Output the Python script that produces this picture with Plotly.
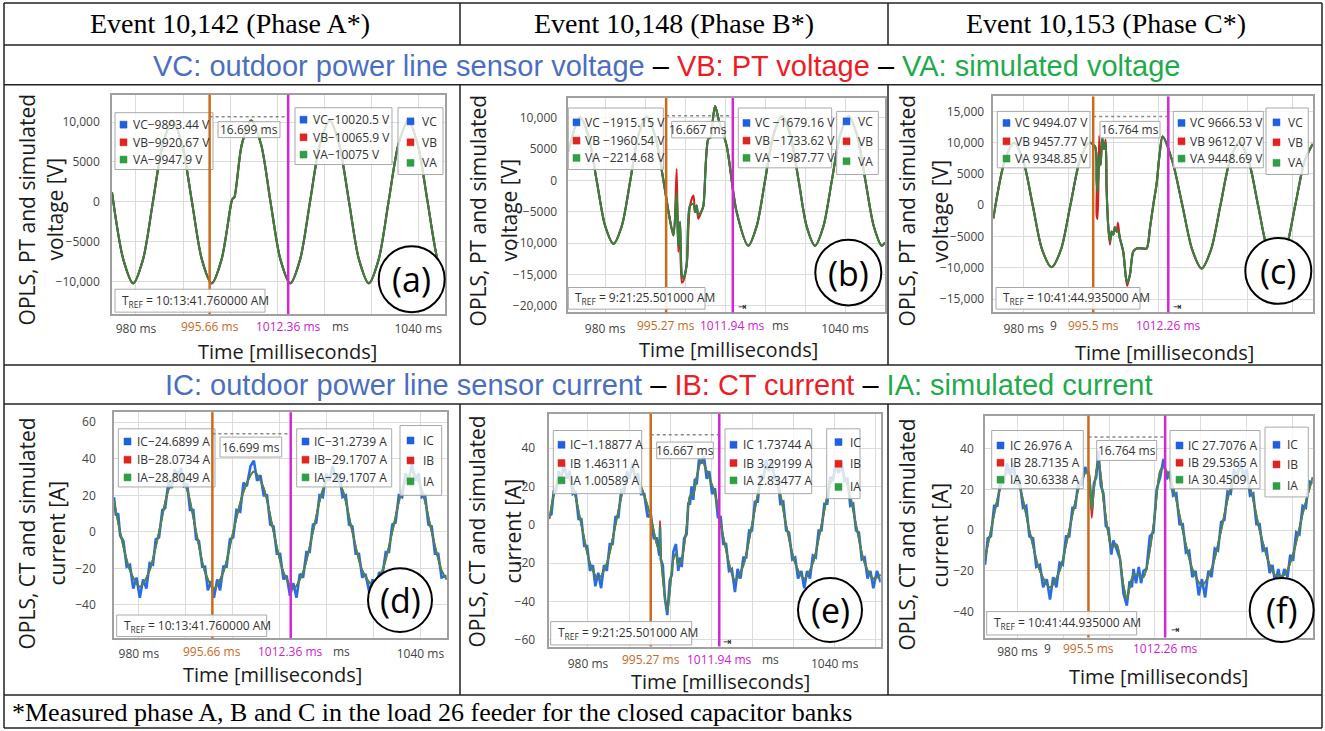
import plotly.graph_objects as go

W, H = 1325, 731
FONT = "Open Sans"
SERIF = "Liberation Serif"
NARROW = "Liberation Sans Narrow, Liberation Sans, Arial"

# ---------------- waveform data (time in ms; V in volts; I in amperes) ----------------
t_a = [974.9, 977.3, 979.4, 981.5, 983.6, 985.7, 987.8, 989.8, 991.9, 994.0, 996.1, 998.2, 1000.3, 1000.6, 1000.9,
       1002.5, 1004.5, 1006.6, 1008.6, 1010.7, 1012.8, 1014.9, 1017.0, 1019.1, 1021.2, 1023.2, 1025.3, 1027.4,
       1029.5, 1031.6, 1033.7, 1035.8, 1037.9, 1039.9, 1042.0, 1044.1, 1045.7]
va_a = [1200, -7200, -10200, -7200, 0, 7200, 10200, 7200, 0, -7200, -10200, -7200, 0, 450, 550,
        7200, 10200, 7200, 0, -7200, -10200, -7200, 0, 7200, 10200, 7200, 0, -7200,
        -10200, -7200, 0, 7200, 10200, 7200, 0, -7200, -9600]

t_b = [970.8, 973.7, 975.8, 977.9, 980.0, 982.1, 984.2, 986.3, 988.3, 990.4, 992.5, 994.6, 996.0, 997.1, 997.9,
       998.3, 998.75, 999.2, 999.6, 1000.4, 1001.25, 1002.1, 1002.5, 1002.9, 1003.3, 1004.2, 1004.6, 1005.8,
       1006.4, 1006.7, 1007.5, 1008.5, 1010.4, 1012.9, 1015.8, 1017.9, 1020.0, 1022.1, 1024.2, 1026.3, 1028.4,
       1030.4, 1032.5, 1034.6, 1036.7, 1038.8, 1040.9, 1043.0, 1045.1, 1047.2, 1049.2, 1050.0]
va_b = [4600, 10100, 7200, 0, -7200, -10100, -7200, 0, 7200, 10200, 7200, 0, -5500, -8760, -1850,
        -10500, -6600, -15100, -15650, -13500, -3980, -3710, -5030, -3980, -5500, -4770, -3980, 6640,
        6900, 8230, 11900, 9500, 5570, -5030, -10400, -7300, 0, 7300, 10300, 7300, 0,
        -7300, -10400, -7300, 0, 7300, 10300, 7300, 0, -7300, -10400, -9900]
vb_b = [4600, 10100, 7200, 0, -7200, -10100, -7200, 0, 7200, 10200, 7200, 0, -5500, -8760, 1860,
        -11400, -8000, -16300, -16000, -13500, -3980, -2390, -5030, -3980, -6100, -4770, -3980, 6640,
        6900, 8230, 11900, 9500, 5570, -5030, -10400, -7300, 0, 7300, 10300, 7300, 0,
        -7300, -10400, -7300, 0, 7300, 10300, 7300, 0, -7300, -10400, -9900]

t_c = [973.2, 975.75, 977.85, 979.9, 982.0, 984.1, 986.2, 988.3, 990.4, 992.5, 994.6, 995.9, 996.26, 996.48,
       996.84, 997.15, 997.51, 997.89, 998.27, 998.49, 998.85, 999.23, 999.61, 999.97, 1000.35, 1000.73,
       1001.02, 1001.47, 1002.2, 1002.81, 1003.1, 1003.7, 1004.44, 1005.2, 1006.67, 1007.43, 1008.2, 1008.9,
       1009.67, 1010.3, 1011.0, 1013.2, 1015.4, 1017.6, 1019.7, 1021.8, 1023.9, 1026.0, 1028.1, 1030.2,
       1032.3, 1034.4, 1036.45, 1038.5, 1040.6, 1042.7, 1044.5]
va_c = [-2100, 7100, 10000, 7100, 0, -7100, -9900, -7100, 0, 7100, 10000, 9400, 4000, 2000,
        8000, 6400, 10900, 9000, 10000, 2700, -3200, -5800, -4200, -4700, -3500, -4200,
        -4000, -5300, -7400, -11600, -12400, -11100, -7400, -6900, -6900, -6900, -3500, 0,
        3500, 8000, 11000, 7000, 0, -7100, -10100, -7100, 0, 7100, 10100, 7100,
        0, -7100, -10000, -7100, 0, 7100, 9800]
vb_c = [-2100, 7100, 10000, 7100, 0, -7100, -9900, -7100, 0, 7100, 10000, 9400, -1600, -2200,
        11100, 6400, 10000, 9000, 10500, 2700, -3200, -6300, -4200, -4700, -3500, -4200,
        -2800, -5300, -7400, -11600, -12900, -11100, -7400, -6900, -6900, -6900, -3500, 0,
        3500, 8000, 11000, 7000, 0, -7100, -10100, -7100, 0, 7100, 10100, 7100,
        0, -7100, -10000, -7100, 0, 7100, 9800]

# (d) current: CT / simulated (smooth) and sensor (noisy)
t_d = [974.7, 976.0, 978.1, 980.2, 982.3, 984.3, 986.3, 988.3, 990.3, 992.2, 994.1, 996.0, 998.0, 1000.1,
       1002.3, 1004.5, 1006.6, 1008.7, 1010.8, 1012.9, 1015.0, 1017.1, 1019.2, 1021.3, 1023.4, 1025.5,
       1027.6, 1029.8, 1031.9, 1034.0, 1036.1, 1038.2, 1040.3, 1042.4, 1044.5, 1045.6]
ia_d = [17, 0, -21, -30, -21, 0, 23, 33, 23, 0, -22, -31, -22, 0,
        22, 33, 24, 0, -22, -31, -22, 0, 23, 32, 23, 0,
        -21, -29, -21, 0, 23, 33, 23, 0, -21, -26]
tc_d = [974.7, 975.1, 975.6, 976.0, 976.7, 977.4, 978.1, 978.8, 979.5, 980.2, 980.9, 981.6, 982.3, 983.0,
        983.6, 984.3, 985.0, 985.6, 986.3, 987.0, 987.6, 988.3, 989.0, 989.6, 990.3, 990.9, 991.6, 992.2,
        992.8, 993.5, 994.1, 994.7, 995.4, 996.0, 996.7, 997.3, 998.0, 998.7, 999.4, 1000.1, 1000.8, 1001.6,
        1002.3, 1003.0, 1003.8, 1004.5, 1005.2, 1005.9, 1006.6, 1007.3, 1008.0, 1008.7, 1009.4, 1010.1,
        1010.8, 1011.5, 1012.2, 1012.9, 1013.6, 1014.3, 1015.0, 1015.7, 1016.4, 1017.1, 1017.8, 1018.5,
        1019.2, 1019.9, 1020.6, 1021.3, 1022.0, 1022.7, 1023.4, 1024.1, 1024.8, 1025.5, 1026.2, 1026.9,
        1027.6, 1028.3, 1029.1, 1029.8, 1030.5, 1031.2, 1031.9, 1032.6, 1033.3, 1034.0, 1034.7, 1035.4,
        1036.1, 1036.8, 1037.5, 1038.2, 1038.9, 1039.6, 1040.3, 1041.0, 1041.7, 1042.4, 1043.1, 1043.8,
        1044.5, 1045.6]
ic_d = [19, 9, 10, -2, -5, -19, -18, -31, -25, -36, -26, -31, -17, -18,
        -4, -3, 12, 13, 27, 24, 34, 30, 35, 25, 26, 12, 12, -4,
        -5, -19, -19, -32, -27, -36, -26, -32, -19, -19, -4, -3, 12, 11,
        27, 25, 36, 39, 28, 31, 20, 20, 4, 3, -12, -12,
        -26, -24, -35, -28, -36, -23, -25, -11, -11, 4, 5, 20,
        19, 32, 28, 36, 28, 32, 19, 20, 4, 3, -12, -12,
        -25, -23, -33, -26, -33, -22, -24, -11, -11, 4, 5, 20,
        19, 32, 28, 37, 28, 32, 19, 20, 4, 3, -12, -12,
        -25, -24]

t_e = [970.6, 972.2, 974.2, 976.3, 978.4, 980.5, 982.5, 984.6, 986.7, 988.8, 990.8, 992.9, 995.27, 996.73,
       997.35, 997.53, 997.7, 999.3, 1000.76, 1001.4, 1001.98, 1002.8, 1004.0, 1004.82, 1005.62, 1006.45,
       1007.66, 1008.88, 1010.9, 1012.9, 1015.76, 1017.8, 1019.9, 1022.0, 1024.0, 1026.1, 1028.2, 1030.4,
       1032.6, 1034.7, 1036.8, 1038.9, 1041.0, 1043.1, 1045.2, 1047.3, 1049.4, 1051.2]
ia_e = [3, 20, 28, 20, 0, -20, -28, -20, 0, 20, 28, 20, 4, -10,
        -13, -1, -15, -45, -18, -15, -21, -18, -1, 15, 16, 25,
        34, 28, 16, -6, -29, -21, 0, 22, 31, 22, 0, -20,
        -28, -20, 0, 21, 30, 21, 0, -20, -28, -26]
ib_e = [3, 20, 28, 20, 0, -20, -28, -20, 0, 20, 28, 20, 4, -10,
        -13, 2, -15, -44, -18, -15, -21, -18, -1, 15, 16, 25,
        34, 28, 16, -6, -29, -21, 0, 22, 31, 22, 0, -20,
        -28, -20, 0, 21, 30, 21, 0, -20, -28, -26]
tc_e = [970.6, 971.1, 971.7, 972.2, 972.9, 973.5, 974.2, 974.9, 975.6, 976.3, 977.0, 977.7, 978.4, 979.1,
        979.8, 980.5, 981.2, 981.8, 982.5, 983.2, 983.9, 984.6, 985.3, 986.0, 986.7, 987.4, 988.1, 988.8,
        989.5, 990.1, 990.8, 991.5, 992.2, 992.9, 993.7, 994.5, 995.27, 996.0, 996.73, 997.35, 997.53, 997.7,
        998.2, 998.7, 999.3, 999.9, 1000.4, 1000.76, 1001.4, 1001.98, 1002.4, 1002.8, 1003.4, 1004.0,
        1004.4, 1004.82, 1005.2, 1005.62, 1006.0, 1006.45, 1007.0, 1007.66, 1008.2, 1008.88, 1009.5, 1010.2,
        1010.9, 1011.6, 1012.3, 1012.9, 1013.6, 1014.3, 1015.0, 1015.76, 1016.4, 1017.1, 1017.8, 1018.5,
        1019.2, 1019.9, 1020.6, 1021.3, 1022.0, 1022.7, 1023.3, 1024.0, 1024.7, 1025.4, 1026.1, 1026.8,
        1027.5, 1028.2, 1028.9, 1029.7, 1030.4, 1031.1, 1031.9, 1032.6, 1033.3, 1034.0, 1034.7, 1035.4,
        1036.1, 1036.8, 1037.5, 1038.2, 1038.9, 1039.6, 1040.3, 1041.0, 1041.7, 1042.4, 1043.1, 1043.8,
        1044.5, 1045.2, 1045.9, 1046.6, 1047.3, 1048.0, 1048.7, 1049.4, 1050.3, 1051.2]
ic_e = [6, 5, 18, 17, 28, 24, 32, 24, 28, 16, 17, 3, 3, -11,
        -11, -24, -21, -32, -25, -33, -21, -24, -10, -10, 4, 4, 18, 17,
        28, 24, 32, 24, 27, 16, 16, 4, 6, -7, -7, -16, -1, -18,
        -21, -38, -47, -29, -26, -14, -10, -24, -17, -22, -7, -5,
        11, 11, 20, 13, 24, 21, 34, 32, 36, 24, 28, 16,
        19, 4, 4, -10, -10, -24, -23, -35, -23, -28, -17, -17,
        -3, -3, 12, 12, 26, 24, 34, 28, 34, 24, 25, 11,
        12, -3, -4, -18, -17, -28, -24, -33, -24, -28, -16, -17,
        -3, -3, 11, 11, 25, 23, 33, 27, 33, 23, 24, 10,
        11, -3, -4, -18, -17, -28, -24, -33, -24, -30]

t_f = [972.9, 974.2, 976.3, 978.4, 980.5, 982.6, 984.9, 987.1, 989.2, 991.3, 993.3, 994.78, 995.5, 996.23,
       996.7, 997.69, 998.78, 999.87, 1000.5, 1000.96, 1001.7, 1003.15, 1003.89, 1004.5, 1005.34, 1006.5,
       1007.52, 1009.7, 1011.17, 1011.9, 1014.0, 1016.1, 1018.2, 1020.3, 1022.4, 1024.5, 1026.6, 1028.7,
       1030.8, 1032.9, 1035.1, 1036.3, 1038.3, 1040.2, 1042.3, 1044.5]
ia_f = [-14, 0, 21, 30, 21, 0, -20, -28, -20, 0, 20, 28, 29, 10,
        20, 34, 15, -2, -8, -8, -7, -27, -34, -28, -22, -22,
        -23, 2, 29, 31, 21, 0, -19, -27, -19, 0, 21, 30,
        21, 0, -17, -22, -22, -12, 8, 26]
ib_f = [-14, 0, 21, 30, 21, 0, -20, -28, -20, 0, 20, 28, 29, 6,
        20, 34, 15, -2, -8, -8, -7, -27, -34, -28, -22, -22,
        -23, 2, 29, 31, 21, 0, -19, -27, -19, 0, 21, 30,
        21, 0, -17, -22, -22, -12, 8, 26]
tc_f = [972.9, 973.5, 974.2, 974.9, 975.6, 976.3, 977.0, 977.7, 978.4, 979.1, 979.8, 980.5, 981.2, 981.9,
        982.6, 983.4, 984.1, 984.9, 985.6, 986.4, 987.1, 987.8, 988.5, 989.2, 989.9, 990.6, 991.3, 992.0,
        992.6, 993.3, 994.0, 994.78, 995.5, 996.23, 996.7, 997.2, 997.69, 998.2, 998.78, 999.3, 999.87,
        1000.5, 1000.96, 1001.7, 1002.4, 1003.15, 1003.89, 1004.5, 1005.0, 1005.34, 1005.9, 1006.5, 1007.0,
        1007.52, 1008.2, 1008.9, 1009.7, 1010.4, 1011.17, 1011.9, 1012.6, 1013.3, 1014.0, 1014.7, 1015.4,
        1016.1, 1016.8, 1017.5, 1018.2, 1018.9, 1019.6, 1020.3, 1021.0, 1021.7, 1022.4, 1023.1, 1023.8,
        1024.5, 1025.2, 1025.9, 1026.6, 1027.3, 1028.0, 1028.7, 1029.4, 1030.1, 1030.8, 1031.5, 1032.2,
        1032.9, 1033.6, 1034.4, 1035.1, 1035.7, 1036.3, 1037.0, 1037.6, 1038.3, 1039.0, 1039.6, 1040.2,
        1040.9, 1041.6, 1042.3, 1043.0, 1043.7, 1044.5]
ic_f = [-17, -4, -3, 12, 12, 25, 23, 33, 27, 33, 23, 24, 11, 12,
        -3, -4, -18, -17, -28, -24, -34, -23, -28, -16, -17, -3, -3, 11,
        11, 24, 22, 31, 27, 10, 23, 26, 39, 22, 18, 2, 1,
        -12, -5, -10, -14, -31, -37, -25, -28, -19, -26, -18, -26,
        -20, -19, -3, -1, 20, 26, 35, 25, 29, 17, 18, 3,
        3, -11, -10, -23, -20, -32, -24, -33, -20, -23, -9, -10,
        4, 5, 19, 18, 30, 26, 34, 26, 30, 17, 18, 3,
        3, -10, -9, -21, -17, -26, -19, -26, -19, -23, -12, -15,
        -1, -2, 12, 11, 24, 23]

# ---------------- tick labels ----------------
grid_ticks = [970, 980, 990, 1000, 1010, 1020, 1030, 1040, 1050]
x_ticks_full = [980, 1040]
x_text_full = ["980 ms", "1040 ms"]
x_ticks_short = [980]
x_text_short = ["980 ms"]
v_ticks_a = [-10000, -5000, 0, 5000, 10000]
v_text_a = ["−10,000", "−5000", "0", "5000", "10,000"]
v_ticks_b = [-20000, -15000, -10000, -5000, 0, 5000, 10000]
v_text_b = ["−20,000", "−15,000", "−10,000", "−5000", "0", "5000", "10,000"]
v_ticks_c = [-15000, -10000, -5000, 0, 5000, 10000, 15000]
v_text_c = ["−15,000", "−10,000", "−5000", "0", "5000", "10,000", "15,000"]
i_ticks_d = [-40, -20, 0, 20, 40, 60]
i_text_d = ["−40", "−20", "0", "20", "40", "60"]
i_ticks_e = [-60, -40, -20, 0, 20, 40]
i_text_e = ["−60", "−40", "−20", "0", "20", "40"]
i_ticks_f = [-40, -20, 0, 20, 40]
i_text_f = ["−40", "−20", "0", "20", "40"]
# fragments of tick labels left visible beside the cursor labels
frag_full = "ms"
frag_short = "9"

# ---------------- cursor readouts ----------------
cursors_a = [995.66, 1012.36]
cursors_b = [995.27, 1011.94]
cursors_c = [995.5, 1012.26]
cursor_text_a = ["995.66 ms", "1012.36 ms"]
cursor_text_b = ["995.27 ms", "1011.94 ms"]
cursor_text_c = ["995.5 ms", "1012.26 ms"]
delta_a, delta_b, delta_c = "16.699 ms", "16.667 ms", "16.764 ms"
tref_a = "T<sub>REF</sub> = 10:13:41.760000 AM"
tref_b = "T<sub>REF</sub> = 9:21:25.501000 AM"
tref_c = "T<sub>REF</sub> = 10:41:44.935000 AM"
read_a1 = ["VC−9893.44 V", "VB−9920.67 V", "VA−9947.9 V"]
read_a2 = ["VC−10020.5 V", "VB−10065.9 V", "VA−10075 V"]
read_b1 = ["VC −1915.15 V", "VB −1960.54 V", "VA −2214.68 V"]
read_b2 = ["VC −1679.16 V", "VB −1733.62 V", "VA −1987.77 V"]
read_c1 = ["VC 9494.07 V", "VB 9457.77 V", "VA 9348.85 V"]
read_c2 = ["VC 9666.53 V", "VB 9612.07 V", "VA 9448.69 V"]
read_d1 = ["IC−24.6899 A", "IB−28.0734 A", "IA−28.8049 A"]
read_d2 = ["IC−31.2739 A", "IB−29.1707 A", "IA−29.1707 A"]
read_e1 = ["IC−1.18877 A", "IB 1.46311 A", "IA 1.00589 A"]
read_e2 = ["IC 1.73744 A", "IB 3.29199 A", "IA 2.83477 A"]
read_f1 = ["IC 26.976 A", "IB 28.7135 A", "IA 30.6338 A"]
read_f2 = ["IC 27.7076 A", "IB 29.5365 A", "IA 30.4509 A"]
names_v = ["VC", "VB", "VA"]
names_i = ["IC", "IB", "IA"]

headers = ["Event 10,142 (Phase A*)", "Event 10,148 (Phase B*)", "Event 10,153 (Phase C*)"]
footnote = "*Measured phase A, B and C in the load 26 feeder for the closed capacitor banks"

SQ = ["#1f5fe0", "#e0241f", "#2f9e44"]

panels = [
    dict(tag="(a)", kind="V", t=t_a, tb=t_a, blue=va_a, red=va_a, green=va_a,
         dx=(112, 445), dy=(95, 315), xr=(974.9, 1045.7), yr=(-14060, 13420),
         yt=v_ticks_a, ytt=v_text_a, xtv=x_ticks_full, xtt=x_text_full, cur=cursors_a, curt=cursor_text_a,
         frag=(frag_full, 1023.4), delta=delta_a, tref=tref_a, r1=read_a1, r2=read_a2,
         b1=(115, 113, 213, 170), b1r=(125, 142.7, 160), b1s=120, b1t=131,
         dur=(218, 122, 280, 138), doty=117,
         b2=(295, 108, 392, 165), b2r=(120, 137.7, 155), b2s=300, b2t=311,
         b3=(398, 108, 443, 175), b3r=(121.7, 142.7, 163.3), b3s=407, b3t=420,
         trefbox=(115, 290, 265, 313), circ=(411.7, 280, 33), laby=327, xtitle=(287, 352),
         ytitle=(27, 55, 210), ylab="OPLS, PT and simulated", ylab2="voltage [V]", ys=8, xs=3, arrow=None),
    dict(tag="(b)", kind="V", t=t_b, tb=t_b, blue=va_b, red=vb_b, green=va_b,
         dx=(568.3, 885), dy=(98.3, 313.3), xr=(970.8, 1050.0), yr=(-21050, 13185),
         yt=v_ticks_b, ytt=v_text_b, xtv=x_ticks_full, xtt=x_text_full, cur=cursors_b, curt=cursor_text_b,
         frag=(frag_full, 1023.8), delta=delta_b, tref=tref_b, r1=read_b1, r2=read_b2,
         b1=(568.3, 108.3, 663.3, 170), b1r=(122.7, 141, 158.3), b1s=573, b1t=583,
         dur=(671.7, 121.7, 725, 138.3), doty=116,
         b2=(738.3, 108.3, 831.7, 168.3), b2r=(123.3, 141, 158.3), b2s=743, b2t=753,
         b3=(836.7, 111.7, 878.3, 175), b3r=(121.7, 141.7, 161.7), b3s=843, b3t=856,
         trefbox=(568.3, 288.3, 705, 310), circ=(848.3, 273.3, 33), laby=326.7, xtitle=(728, 350),
         ytitle=(478, 509, 211), ylab="OPLS, PT and simulated", ylab2="voltage [V]", ys=7, xs=4,
         arrow=(741.7, 307.7)),
    dict(tag="(c)", kind="V", t=t_c, tb=t_c, blue=va_c, red=vb_c, green=va_c,
         dx=(993.3, 1312.7), dy=(96.7, 313.3), xr=(973.2, 1044.5), yr=(-17120, 17390),
         yt=v_ticks_c, ytt=v_text_c, xtv=x_ticks_short, xtt=x_text_short, cur=cursors_c, curt=cursor_text_c,
         frag=(frag_short, 986.6), delta=delta_c, tref=tref_c, r1=read_c1, r2=read_c2,
         b1=(997.3, 111.7, 1090, 168.3), b1r=(123.3, 141.7, 159), b1s=1003, b1t=1013,
         dur=(1100, 121.7, 1160, 138.3), doty=116.7,
         b2=(1173.3, 111.7, 1263.3, 168.3), b2r=(123.3, 141.7, 159), b2s=1178, b2t=1188,
         b3=(1266, 108.3, 1308.3, 175), b3r=(122.7, 142.7, 163.3), b3s=1273, b3t=1286,
         trefbox=(996, 288.3, 1140, 310), circ=(1278.3, 271.7, 33), laby=326.7, xtitle=(1164, 353),
         ytitle=(907, 940, 211), ylab="OPLS, PT and simulated", ylab2="voltage [V]", ys=5, xs=4,
         arrow=(1176.7, 307.7)),
    dict(tag="(d)", kind="I", t=t_d, tb=tc_d, blue=ic_d, red=ia_d, green=ia_d,
         dx=(114, 446.7), dy=(413.3, 640), xr=(974.7, 1045.6), yr=(-58.2, 65.5),
         yt=i_ticks_d, ytt=i_text_d, xtv=x_ticks_full, xtt=x_text_full, cur=cursors_a, curt=cursor_text_a,
         frag=(frag_full, 1023.1), delta=delta_a, tref=tref_a, r1=read_d1, r2=read_d2,
         b1=(118.3, 430, 215, 488.3), b1r=(442.7, 461, 478.7), b1s=124, b1t=135,
         dur=(220, 438.3, 281.7, 458.3), doty=435,
         b2=(296.7, 430, 391.7, 488.3), b2r=(442.7, 461, 478.7), b2s=302, b2t=312,
         b3=(400, 426.7, 441.7, 496.7), b3r=(441.7, 461.7, 482.7), b3s=407, b3t=421,
         trefbox=(116.7, 616.7, 266.7, 638.3), circ=(400, 601.7, 32), laby=653.3, xtitle=(272, 676),
         ytitle=(27, 57, 535), ylab="OPLS, CT and simulated", ylab2="current [A]", ys=14, xs=4, arrow=None),
    dict(tag="(e)", kind="I", t=t_e, tb=tc_e, blue=ic_e, red=ib_e, green=ia_e,
         dx=(549.3, 880.7), dy=(415, 648.3), xr=(970.6, 1051.2), yr=(-63.4, 57.8),
         yt=i_ticks_e, ytt=i_text_e, xtv=x_ticks_full, xtt=x_text_full, cur=cursors_b, curt=cursor_text_b,
         frag=(frag_full, 1024.3), delta=delta_b, tref=tref_b, r1=read_e1, r2=read_e2,
         b1=(553.3, 431.7, 641.7, 495), b1r=(446, 464.3, 481.7), b1s=558, b1t=568,
         dur=(656.7, 443.3, 713.3, 460), doty=436,
         b2=(725, 430, 811.7, 495), b2r=(446, 464.3, 481.7), b2s=730, b2t=741,
         b3=(826.7, 430, 860, 500), b3r=(443.3, 465, 488.3), b3s=835, b3t=848,
         trefbox=(550.7, 623.3, 691.7, 646.7), circ=(830, 611.7, 32), laby=661, xtitle=(720, 683),
         ytitle=(477, 513, 533), ylab="OPLS, CT and simulated", ylab2="current [A]", ys=10, xs=5,
         arrow=(726.7, 643.3)),
    dict(tag="(f)", kind="I", t=t_f, tb=tc_f, blue=ic_f, red=ib_f, green=ia_f,
         dx=(985, 1312.7), dy=(416.7, 639.3), xr=(972.9, 1044.5), yr=(-52.7, 56.3),
         yt=i_ticks_f, ytt=i_text_f, xtv=x_ticks_short, xtt=x_text_short, cur=cursors_c, curt=cursor_text_c,
         frag=(frag_short, 986.6), delta=delta_c, tref=tref_c, r1=read_f1, r2=read_f2,
         b1=(991.7, 431.7, 1083.3, 490), b1r=(446.7, 464, 481), b1s=997, b1t=1008,
         dur=(1096.7, 441.7, 1156.7, 461.7), doty=438.3,
         b2=(1170, 431.7, 1260, 490), b2r=(446.7, 464, 481), b2s=1176, b2t=1186,
         b3=(1265, 428.3, 1308.3, 498.3), b3r=(446, 465.7, 487.3), b3s=1273, b3t=1285,
         trefbox=(986.7, 613.3, 1136.7, 636.7), circ=(1281.7, 611.7, 32), laby=650, xtitle=(1158, 678.3),
         ytitle=(907, 940, 536), ylab="OPLS, CT and simulated", ylab2="current [A]", ys=7, xs=2,
         arrow=(1175, 631.7)),
]


def px(x):
    return x / W


def py(y):
    return 1 - y / H


fig = go.Figure()
shapes, annots = [], []
layout_axes = {}


def rect(x0, y0, x1, y1, fill, line="#a9a9a9", lw=1):
    shapes.append(dict(type="rect", xref="paper", yref="paper", x0=px(x0), x1=px(x1), y0=py(y1), y1=py(y0),
                       fillcolor=fill, line=dict(color=line, width=lw), layer="above"))


def label(x, y, s, size=12, color="#333333", xanchor="left", family=FONT, angle=0, **kw):
    annots.append(dict(xref="paper", yref="paper", x=px(x), y=py(y), text=s, showarrow=False,
                       xanchor=xanchor, yanchor="middle", textangle=angle,
                       font=dict(size=size, color=color, family=family), **kw))


def rows(sqx, txx, ys, texts):
    for k, (yy, s) in enumerate(zip(ys, texts)):
        rect(sqx, yy - 3.5, sqx + 7, yy + 3.5, SQ[k], line=SQ[k], lw=0.5)
        label(txx, yy, s, size=12, color="#333333")


for i, p in enumerate(panels, start=1):
    xa = "x" if i == 1 else f"x{i}"
    ya = "y" if i == 1 else f"y{i}"
    suffix = "" if i == 1 else str(i)
    axis_style = dict(showgrid=True, gridcolor="#dcdcdc", gridwidth=1, showline=True, mirror=True,
                      linecolor="#a0a0a0", linewidth=1.5, zeroline=False, ticks="", fixedrange=True,
                      tickfont=dict(size=12, color="#444444", family=FONT))
    layout_axes["xaxis" + suffix] = dict(domain=[px(p["dx"][0]), px(p["dx"][1])], range=list(p["xr"]),
                                         tickmode="array", tickvals=p["xtv"], ticktext=p["xtt"],
                                         minor=dict(tickmode="array", tickvals=grid_ticks, showgrid=True,
                                                    gridcolor="#dcdcdc", gridwidth=1, ticks=""),
                                         anchor=ya, ticklabelstandoff=p["xs"], **axis_style)
    layout_axes["yaxis" + suffix] = dict(domain=[py(p["dy"][1]), py(p["dy"][0])], range=list(p["yr"]),
                                         tickmode="array", tickvals=p["yt"], ticktext=p["ytt"],
                                         anchor=xa, ticklabelstandoff=p["ys"], **axis_style)

    if p["kind"] == "V":
        series = [(p["tb"], p["blue"], "#1f5fd0", 2.0, "spline"), (p["t"], p["red"], "#d81e1e", 2.0, "spline"),
                  (p["t"], p["green"], "#3b7f3b", 2.2, "spline")]
    else:
        series = [(p["tb"], p["blue"], "#2a6be6", 2.6, "linear"), (p["t"], p["red"], "#d42a2a", 1.8, "spline"),
                  (p["t"], p["green"], "#3d8f55", 1.8, "spline")]
    for xs_, yv, color, width, shape in series:
        line = dict(color=color, width=width, shape=shape)
        if shape == "spline":
            line["smoothing"] = 0.8
        fig.add_trace(go.Scatter(x=xs_, y=yv, mode="lines", xaxis=xa, yaxis=ya, showlegend=False,
                                 hoverinfo="skip", line=line))

    names = names_v if p["kind"] == "V" else names_i
    for key, rk, sk, tk, texts in (("b1", "b1r", "b1s", "b1t", p["r1"]), ("b2", "b2r", "b2s", "b2t", p["r2"]),
                                   ("b3", "b3r", "b3s", "b3t", names)):
        x0, y0, x1, y1 = p[key]
        rect(x0, y0, x1, y1, "rgba(255,255,255,0.8)")
        rows(p[sk], p[tk], p[rk], texts)
    x0, y0, x1, y1 = p["dur"]
    rect(x0, y0, x1, y1, "rgba(255,255,255,0.85)")
    label((x0 + x1) / 2, (y0 + y1) / 2, p["delta"], xanchor="center")
    shapes.append(dict(type="line", xref=xa, yref="paper", x0=p["cur"][0], x1=p["cur"][1],
                       y0=py(p["doty"]), y1=py(p["doty"]), line=dict(color="#888888", width=1.5, dash="dot")))
    for cx, col in zip(p["cur"], ["#cc6a1a", "#d426d4"]):
        shapes.append(dict(type="line", xref=xa, yref=ya + " domain", x0=cx, x1=cx, y0=0, y1=1,
                           line=dict(color=col, width=2.5), layer="above"))
    for cx, s, col in zip(p["cur"], p["curt"], ["#c8691e", "#cc22cc"]):
        annots.append(dict(xref=xa, yref="paper", x=cx, y=py(p["laby"]), text=s, showarrow=False,
                           xanchor="center", yanchor="middle",
                           font=dict(size=12, color=col, family=FONT)))
    annots.append(dict(xref=xa, yref="paper", x=p["frag"][1], y=py(p["laby"]), text=p["frag"][0],
                       showarrow=False, xanchor="center", yanchor="middle",
                       font=dict(size=12, color="#444444", family=FONT)))
    x0, y0, x1, y1 = p["trefbox"]
    rect(x0, y0, x1, y1, "rgba(255,255,255,0.9)")
    label(x0 + 5, (y0 + y1) / 2, p["tref"], size=12)
    if p["arrow"]:
        label(p["arrow"][0], p["arrow"][1], "⇥", size=10, color="#111111", xanchor="center",
              family="DejaVu Sans")
    cx, cy, r = p["circ"]
    shapes.append(dict(type="circle", xref="paper", yref="paper", x0=px(cx - r), x1=px(cx + r),
                       y0=py(cy + r), y1=py(cy - r), fillcolor="white", line=dict(color="black", width=2),
                       layer="above"))
    label(cx, cy, p["tag"], size=34, color="black", xanchor="center")
    label(p["xtitle"][0], p["xtitle"][1], "Time [milliseconds]", size=20, color="#1a1a1a", xanchor="center")
    label(p["ytitle"][0], p["ytitle"][2], p["ylab"], size=21, color="#1a1a1a", xanchor="center", angle=-90)
    label(p["ytitle"][1], p["ytitle"][2], p["ylab2"], size=21, color="#1a1a1a", xanchor="center", angle=-90)

frame = [(4, 3, 1322, 3), (4, 45, 1322, 45), (4, 85, 1322, 85), (4, 366, 1322, 366), (4, 405, 1322, 405),
         (4, 697, 1322, 697), (4, 730, 1322, 730), (4, 3, 4, 730), (1322, 3, 1322, 730),
         (460, 3, 460, 45), (888, 3, 888, 45), (460, 85, 460, 366), (888, 85, 888, 366),
         (460, 405, 460, 697), (888, 405, 888, 697)]
for x0, y0, x1, y1 in frame:
    shapes.append(dict(type="line", xref="paper", yref="paper", x0=px(x0), x1=px(x1), y0=py(y0), y1=py(y1),
                       line=dict(color="#222222", width=1.5)))

for cx, s in zip([230, 674, 1106], headers):
    label(cx, 24, s, size=28, color="black", xanchor="center", family=SERIF)

BLUE_T, RED_T, GREEN_T = "#4a6fc0", "#ee1c25", "#1faa4b"
label(667, 66, f'<span style="color:{BLUE_T}">VC: outdoor power line sensor voltage</span> – '
               f'<span style="color:{RED_T}">VB: PT voltage</span> – '
               f'<span style="color:{GREEN_T}">VA: simulated voltage</span>',
      size=29, color="black", xanchor="center", family=NARROW)
label(659, 386, f'<span style="color:{BLUE_T}">IC: outdoor power line sensor current</span> – '
                f'<span style="color:{RED_T}">IB: CT current</span> – '
                f'<span style="color:{GREEN_T}">IA: simulated current</span>',
      size=29, color="black", xanchor="center", family=NARROW)
label(10, 714, footnote, size=26, color="black", family=SERIF)

fig.update_layout(width=W, height=H, margin=dict(l=0, r=0, t=0, b=0), paper_bgcolor="white",
                  plot_bgcolor="white", showlegend=False, shapes=shapes, annotations=annots, **layout_axes)

fig.write_html("out.html", config={"displayModeBar": False},
               post_script="document.body.style.margin='0px';")
